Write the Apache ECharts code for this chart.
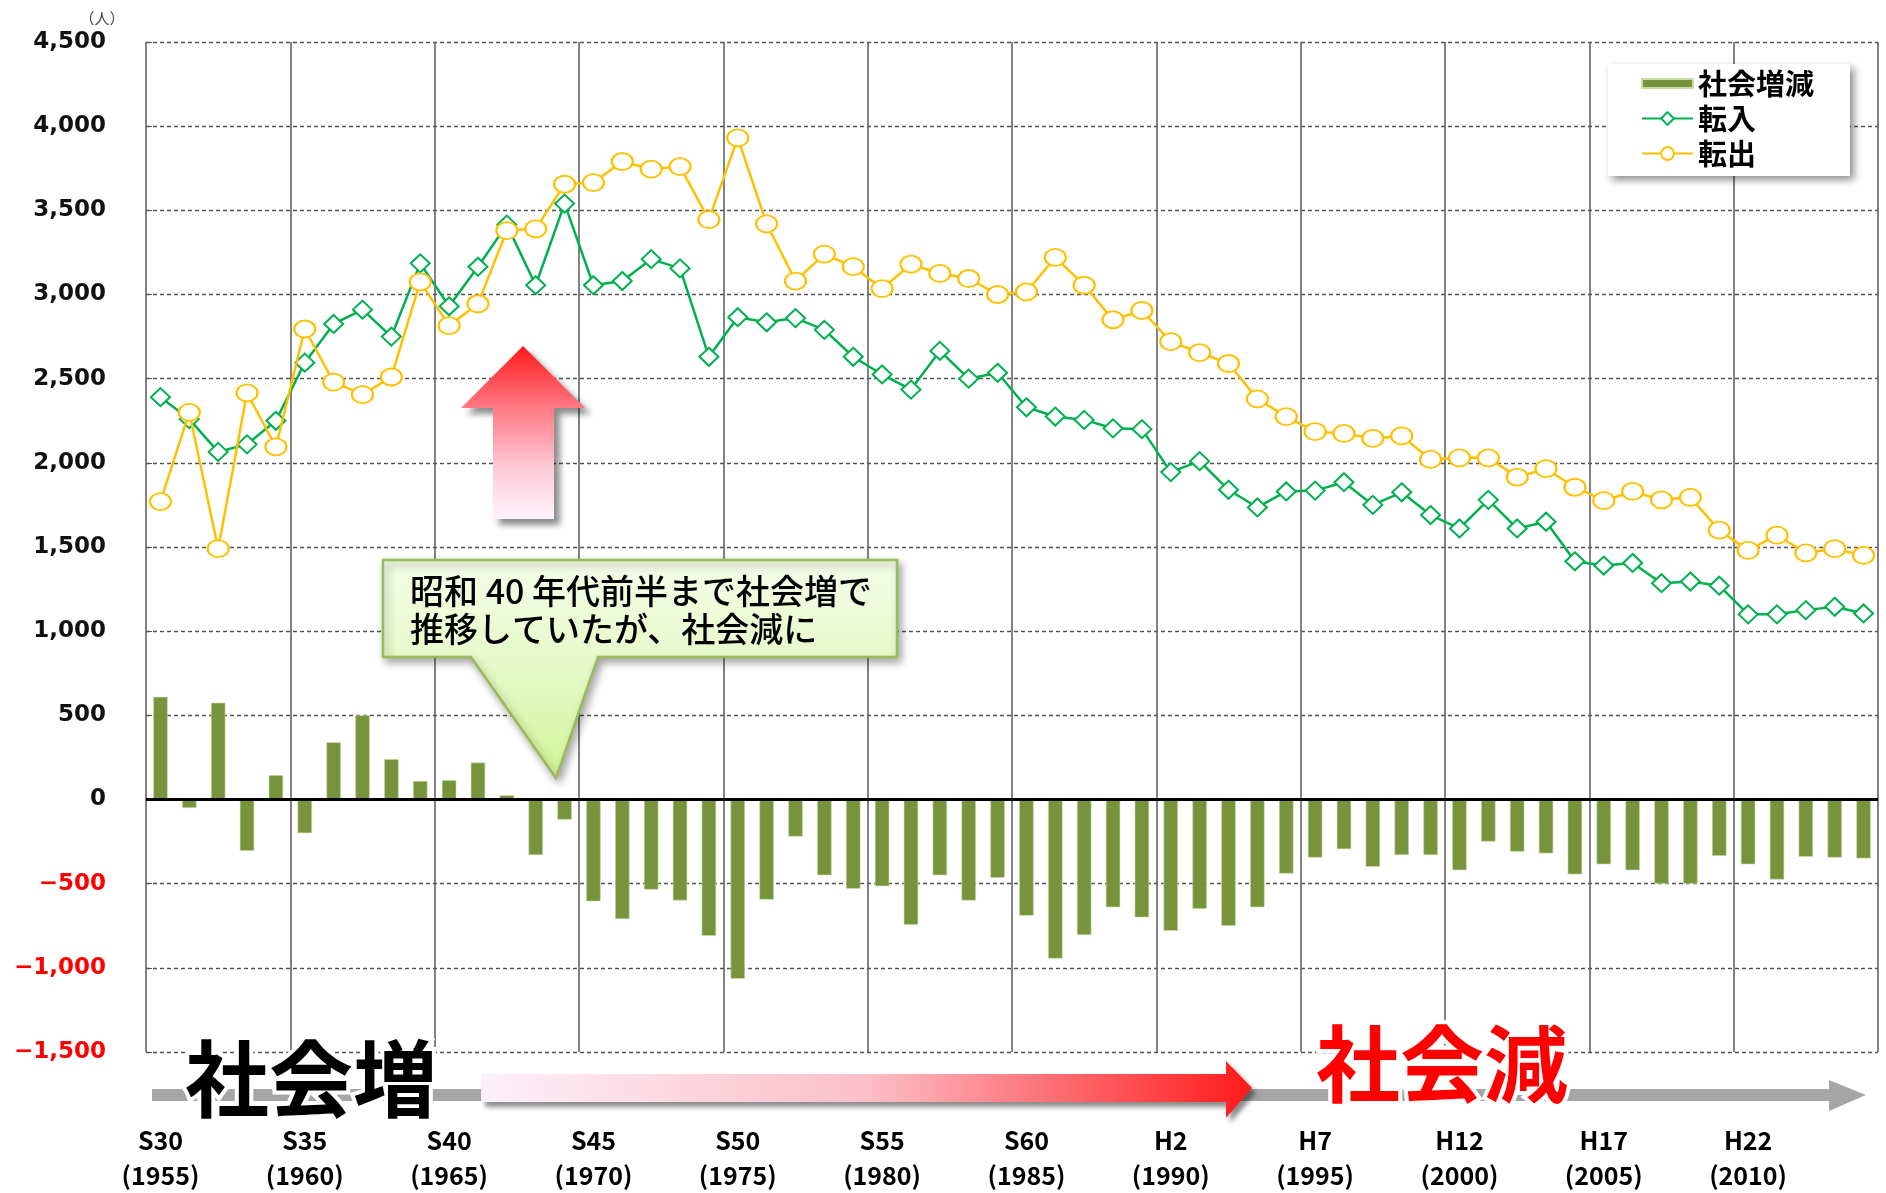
<!DOCTYPE html>
<html>
<head>
<meta charset="utf-8">
<title>社会増減の推移</title>
<script src="https://cdn.jsdelivr.net/npm/echarts@6/dist/echarts.min.js"></script>
<style>
html,body{margin:0;padding:0;background:#fff;}
#EChart_social{width:1886px;height:1193px;}
</style>
</head>
<body>
<div id="EChart_social"></div>
<script>
// years on the category axis
const years = ['1955','1956','1957','1958','1959','1960','1961','1962','1963','1964',
  '1965','1966','1967','1968','1969','1970','1971','1972','1973','1974',
  '1975','1976','1977','1978','1979','1980','1981','1982','1983','1984',
  '1985','1986','1987','1988','1989','1990','1991','1992','1993','1994',
  '1995','1996','1997','1998','1999','2000','2001','2002','2003','2004',
  '2005','2006','2007','2008','2009','2010','2011','2012','2013','2014']
// era names shown every 5 years
const eraLabels = ['S30','S35','S40','S45','S50','S55','S60','H2','H7','H12','H17','H22']

// 社会増減 (bars)
const socialChange = [610,-50,575,-305,145,-200,340,500,240,110,
  115,220,25,-330,-120,-605,-710,-535,-600,-810,
  -1065,-595,-220,-450,-530,-515,-745,-450,-600,-465,
  -690,-945,-805,-640,-700,-780,-650,-750,-640,-440,
  -345,-295,-400,-330,-330,-420,-250,-310,-320,-445,
  -385,-420,-500,-500,-335,-385,-475,-340,-345,-350]
// 転入
const moveIn = [2390,2260,2065,2110,2250,2595,2825,2910,2750,3185,
  2930,3165,3415,3055,3540,3055,3080,3210,3155,2630,
  2865,2835,2860,2790,2630,2525,2435,2665,2500,2535,
  2330,2275,2255,2205,2200,1945,2010,1840,1735,1830,
  1835,1885,1750,1825,1690,1610,1780,1610,1650,1415,
  1390,1405,1285,1295,1270,1100,1100,1125,1145,1105]
// 転出
const moveOut = [1770,2300,1490,2415,2095,2795,2480,2405,2510,3075,
  2815,2945,3380,3390,3655,3665,3790,3745,3760,3445,
  3930,3420,3080,3240,3165,3035,3180,3125,3095,3000,
  3015,3220,3055,2850,2905,2720,2655,2590,2380,2275,
  2185,2175,2145,2160,2020,2030,2030,1915,1965,1855,
  1775,1830,1780,1795,1600,1480,1570,1465,1490,1450]

const yMin = -1500
const yMax = 4500
const yStep = 500

const FONT = "'Noto Sans CJK JP', 'Noto Sans', sans-serif"

let EChart = echarts.init(document.getElementById('EChart_social'))

let option = {
  animation: false,
  backgroundColor: '#fff',
  grid: {
    left: 146,
    right: 8,
    top: 42,
    bottom: 134
  },
  legend: {
    orient: 'vertical',
    left: 1608,
    top: 64,
    padding: [5, 36, 8, 33],
    itemWidth: 51,
    itemHeight: 16,
    itemGap: 6,
    backgroundColor: '#fff',
    shadowBlur: 8,
    shadowColor: 'rgba(0,0,0,0.45)',
    shadowOffsetX: 4,
    shadowOffsetY: 4,
    textStyle: {
      fontFamily: FONT,
      fontSize: 29,
      fontWeight: 'bold',
      color: '#000'
    },
    data: [
      { name: '社会増減', icon: 'path://M0,0H50V9H0Z' },
      '転入',
      '転出'
    ]
  },
  xAxis: [
    {
      type: 'category',
      data: years,
      position: 'bottom',
      axisLine: { show: false, onZero: false },
      axisTick: { show: false },
      splitLine: { show: false },
      axisLabel: {
        interval: 4,
        margin: 71,
        fontFamily: FONT,
        fontSize: 25,
        fontWeight: 'bold',
        lineHeight: 35,
        color: '#000',
        formatter: (value, index) => {
          if (index % 5 !== 0) return ''
          return eraLabels[index / 5] + '\n(' + value + ')'
        }
      }
    },
    {
      // only used for the solid vertical lines every 5 years
      type: 'value',
      min: 0,
      max: years.length,
      interval: 5,
      position: 'top',
      axisLine: { show: false },
      axisTick: { show: false },
      axisLabel: { show: false },
      splitLine: {
        show: true,
        lineStyle: { color: '#5a5a5a', width: 1.5, type: 'solid' }
      }
    }
  ],
  yAxis: {
    type: 'value',
    min: yMin,
    max: yMax,
    interval: yStep,
    axisLine: { show: false },
    axisTick: { show: true, inside: true, length: 6, lineStyle: { color: '#555' } },
    axisLabel: {
      margin: 40,
      fontFamily: "'DejaVu Sans', sans-serif",
      fontSize: 23,
      fontWeight: 'bold',
      color: (value) => (value < 0 ? '#ff0000' : '#111'),
      formatter: (value) => {
        let s = Math.abs(value).toLocaleString('en-US')
        return value < 0 ? '−' + s : s
      }
    },
    splitLine: {
      lineStyle: { color: '#555', width: 1.3, type: [4, 3] }
    }
  },
  series: [
    {
      name: '社会増減',
      type: 'bar',
      barWidth: '50%',
      data: socialChange,
      itemStyle: {
        color: '#77933c',
        borderColor: '#c9dba6',
        borderWidth: 0.6
      },
      markLine: {
        silent: true,
        symbol: ['none', 'none'],
        label: { show: false },
        lineStyle: { color: '#000', width: 3, type: 'solid' },
        data: [{ yAxis: 0 }]
      },
      z: 2
    },
    {
      name: '転入',
      type: 'line',
      data: moveIn,
      symbol: 'emptyDiamond',
      symbolSize: [19, 18],
      lineStyle: { color: '#00b050', width: 2.5 },
      itemStyle: { color: '#00b050', borderWidth: 2.5 },
      z: 3
    },
    {
      name: '転出',
      type: 'line',
      data: moveOut,
      symbol: 'emptyCircle',
      symbolSize: [21, 17],
      lineStyle: { color: '#ffc000', width: 2.5 },
      itemStyle: { color: '#ffc000', borderWidth: 2.5 },
      z: 4
    }
  ],
  graphic: [
    {
      type: 'text',
      z: 100,
      style: {
        text: '（人）',
        x: 102,
        y: 18,
        align: 'center',
        verticalAlign: 'middle',
        font: "15px 'Noto Sans CJK JP'",
        fill: '#444'
      }
    },
    // red up arrow
    {
      type: 'polygon',
      z: 100,
      shape: {
        points: [[523,346],[585,408],[554,408],[554,519],[493,519],[493,408],[461,408]]
      },
      style: {
        fill: new echarts.graphic.LinearGradient(0, 0, 0, 1, [
          { offset: 0, color: '#ff1a1a' },
          { offset: 0.36, color: '#ff7a85' },
          { offset: 0.7, color: '#fcc8d5' },
          { offset: 1, color: '#fff3fb' }
        ]),
        shadowBlur: 6,
        shadowOffsetX: 6,
        shadowOffsetY: 6,
        shadowColor: 'rgba(0,0,0,0.45)'
      }
    },
    // callout box
    {
      type: 'polygon',
      z: 100,
      shape: {
        points: [[383,560],[897,560],[897,657],[598,657],[556,778],[471,657],[383,657]]
      },
      style: {
        fill: new echarts.graphic.LinearGradient(0, 0, 0, 1, [
          { offset: 0, color: '#f4fde8' },
          { offset: 0.45, color: '#e6facb' },
          { offset: 1, color: '#d3f59a' }
        ]),
        stroke: '#9bbb59',
        lineWidth: 2.5,
        shadowBlur: 8,
        shadowOffsetX: 3,
        shadowOffsetY: 4,
        shadowColor: 'rgba(0,0,0,0.35)'
      }
    },
    {
      type: 'text',
      z: 101,
      style: {
        text: '昭和 40 年代前半まで社会増で\n推移していたが、社会減に',
        x: 410,
        y: 572,
        verticalAlign: 'top',
        lineHeight: 38,
        font: "500 34px 'Noto Sans CJK JP'",
        fill: '#000'
      }
    },
    // gray time arrow
    {
      type: 'polygon',
      z: 100,
      shape: {
        points: [[152,1089],[1829,1089],[1829,1080],[1866,1095],[1829,1111],[1829,1101],[152,1101]]
      },
      style: { fill: '#a6a6a6' }
    },
    // red horizontal arrow
    {
      type: 'polygon',
      z: 101,
      shape: {
        points: [[481,1074],[1226,1074],[1226,1061],[1252,1088],[1226,1118],[1226,1102],[481,1102]]
      },
      style: {
        fill: new echarts.graphic.LinearGradient(0, 0, 1, 0, [
          { offset: 0, color: '#fdf0fa' },
          { offset: 0.5, color: '#fcbfc8' },
          { offset: 1, color: '#ff1a1a' }
        ]),
        shadowBlur: 5,
        shadowOffsetX: 4,
        shadowOffsetY: 5,
        shadowColor: 'rgba(0,0,0,0.45)'
      }
    },
    {
      type: 'text',
      z: 102,
      style: {
        text: '社会増',
        x: 185,
        y: 1079,
        verticalAlign: 'middle',
        font: "bold 84px 'Noto Sans CJK JP'",
        fill: '#000',
        stroke: '#fff',
        lineWidth: 8,
        strokeFirst: true
      }
    },
    {
      type: 'text',
      z: 102,
      style: {
        text: '社会減',
        x: 1316,
        y: 1064,
        verticalAlign: 'middle',
        font: "bold 84px 'Noto Sans CJK JP'",
        fill: '#ff0000',
        stroke: '#fff',
        lineWidth: 8,
        strokeFirst: true
      }
    }
  ]
}

EChart.setOption(option)
</script>
</body>
</html>
